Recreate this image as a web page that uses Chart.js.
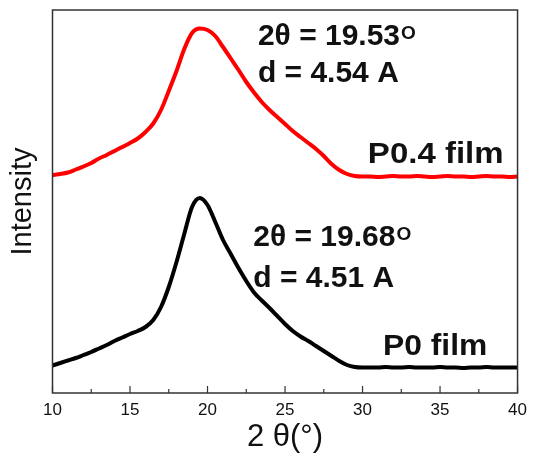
<!DOCTYPE html>
<html>
<head>
<meta charset="utf-8">
<script src="https://cdn.jsdelivr.net/npm/chart.js@4.4.0/dist/chart.umd.min.js"></script>
<style>
  html, body { margin: 0; padding: 0; background: #fff; }
  #wrap { width: 534px; height: 456px; }
</style>
</head>
<body>
<div id="wrap"><canvas id="myChart"></canvas></div>
<script>
// 2θ angles (degrees)
const angulos = [10, 10.5, 11, 11.5, 12, 12.5, 13, 13.5, 14, 14.5, 15, 15.5, 16, 16.5, 17, 17.5, 18, 18.5, 19, 19.5,
  20, 20.5, 21, 21.5, 22, 22.5, 23, 23.5, 24, 24.5, 25, 25.5, 26, 26.5, 27, 27.5, 28, 28.5, 29, 29.5,
  30, 30.5, 31, 31.5, 32, 32.5, 33, 33.5, 34, 34.5, 35, 35.5, 36, 36.5, 37, 37.5, 38, 38.5, 39, 39.5, 40];

// intensity (a.u.), P0.4 film (offset curve, red)
const p04 = [218, 219, 220.5, 223.5, 226.5, 230, 234.5, 238, 242, 246, 250, 254.5, 261, 269.5, 283, 302, 322, 344, 360, 364.5,
  363, 357, 346, 334.5, 323, 311, 300.5, 291, 283, 276, 269, 262, 256, 250, 244, 237, 229, 223, 219, 217,
  216.5, 216.5, 216, 216.5, 217, 216.5, 216.5, 217, 216.5, 216, 216.5, 217, 216.5, 216.5, 216, 216.5, 217, 216.5, 216.5, 216, 216.5];

// intensity (a.u.), P0 film (black)
const p0 = [27.5, 30, 32.5, 35, 38, 41, 44.5, 48, 52, 55.5, 59, 62, 66, 73, 86, 106, 131, 159, 186, 195,
  188, 171, 153, 139, 125, 112, 100.5, 92.5, 85, 77, 69, 62, 56.5, 52, 47, 42, 37, 32, 28, 26,
  25.5, 25.5, 25.5, 26, 25.5, 25.5, 26, 25.5, 25.5, 25.5, 26, 25.5, 25.5, 25, 25.5, 25.5, 26, 25.5, 25.5, 25.5, 25.5];

const xTicks = [10, 15, 20, 25, 30, 35, 40];

const fuente = '"Liberation Sans", Arial, sans-serif';

function puntos(ys) {
  return angulos.map((a, i) => ({ x: a, y: ys[i] }));
}

// marco, ticks internos y anotaciones
const extras = {
  id: 'extras',
  afterDraw(chart) {
    const ctx = chart.ctx;
    const a = chart.chartArea;
    const xs = chart.scales.x;
    const ys = chart.scales.y;
    ctx.save();
    ctx.strokeStyle = '#333';
    ctx.lineWidth = 1.5;
    ctx.strokeRect(a.left, a.top, a.right - a.left, a.bottom - a.top);
    ctx.lineWidth = 1.2;
    for (let v = 10; v <= 40; v += 2.5) {
      const px = xs.getPixelForValue(v);
      const largo = (v % 5 === 0) ? 7 : 4;
      ctx.beginPath();
      ctx.moveTo(px, a.bottom);
      ctx.lineTo(px, a.bottom - largo);
      ctx.stroke();
    }

    ctx.fillStyle = '#111';
    ctx.textBaseline = 'alphabetic';
    // texto con estiramiento horizontal opcional
    const texto = (t, x, yv, size, align, sx) => {
      sx = sx || 1;
      ctx.save();
      ctx.font = 'bold ' + size + 'px ' + fuente;
      ctx.textAlign = align || 'left';
      const px = xs.getPixelForValue(x);
      ctx.translate(px, ys.getPixelForValue(yv));
      ctx.scale(sx, 1);
      ctx.fillText(t, 0, 0);
      const w = ctx.measureText(t).width * sx;
      ctx.restore();
      return w;
    };
    const grado = (x, w, yv) => {
      ctx.font = 'bold 19px ' + fuente;
      ctx.textAlign = 'left';
      ctx.fillText('O', xs.getPixelForValue(x) + w + 1, ys.getPixelForValue(yv));
    };
    // P0.4
    let w = texto('2θ = 19.53', 23.25, 348, 30);
    grado(23.25, w, 354);
    texto('d = 4.54 A', 23.25, 311, 30);
    texto('P0.4 film', 39.1, 230, 30, 'right', 1.1);
    // P0
    w = texto('2θ = 19.68', 22.95, 147, 30);
    grado(22.95, w, 153);
    texto('d = 4.51 A', 22.95, 106, 30);
    texto('P0 film', 38.05, 38, 30, 'right', 1.06);
    ctx.restore();
  }
};

const ctx = document.getElementById('myChart');
new Chart(ctx, {
  type: 'line',
  data: {
    datasets: [
      { label: 'P0.4 film', data: puntos(p04), borderColor: '#ff0000', borderWidth: 4, pointRadius: 0, cubicInterpolationMode: 'monotone' },
      { label: 'P0 film', data: puntos(p0), borderColor: '#000000', borderWidth: 4, pointRadius: 0, cubicInterpolationMode: 'monotone' }
    ]
  },
  options: {
    responsive: true,
    maintainAspectRatio: false,
    animation: false,
    layout: { padding: { top: 10, right: 12, left: 0, bottom: 0 } },
    plugins: { legend: { display: false }, tooltip: { enabled: false } },
    scales: {
      x: {
        type: 'linear',
        min: 10,
        max: 40,
        afterBuildTicks: (s) => { s.ticks = xTicks.map(v => ({ value: v })); },
        afterFit: (s) => { s.height = 63; },
        grid: { display: false, drawTicks: false },
        border: { display: false },
        ticks: { color: '#111', font: { family: fuente, size: 17 }, padding: 7, maxRotation: 0 },
        title: {
          display: true,
          text: '2 θ(°)',
          color: '#111',
          font: { family: fuente, size: 31, lineHeight: 1.2 },
          padding: { top: 0, bottom: 0 }
        }
      },
      y: {
        min: 0,
        max: 383,
        afterFit: (s) => { s.width = 52.5; },
        grid: { display: false, drawTicks: false },
        border: { display: false },
        ticks: { display: false },
        title: {
          display: true,
          text: 'Intensity',
          color: '#111',
          font: { family: fuente, size: 29, lineHeight: 1.2 },
          padding: { top: 6, bottom: 0 }
        }
      }
    }
  },
  plugins: [extras]
});
</script>
</body>
</html>
